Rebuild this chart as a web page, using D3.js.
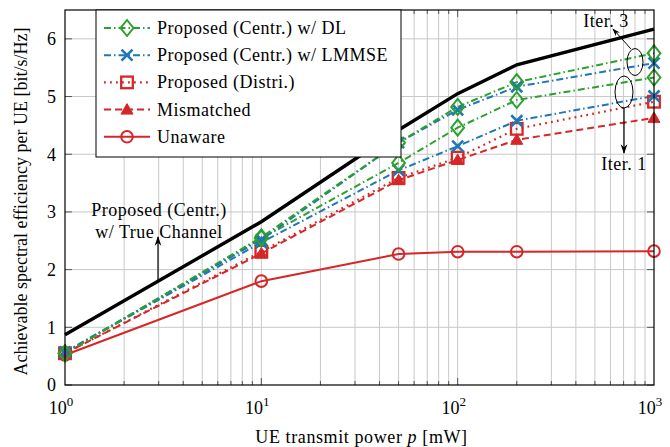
<!DOCTYPE html>
<html>
<head>
<meta charset="utf-8">
<script src="https://cdn.jsdelivr.net/npm/d3@7"></script>
<style>
  html, body { margin: 0; padding: 0; background: #fff; }
  svg { display: block; font-family: "Liberation Serif", "DejaVu Serif", serif; }
</style>
</head>
<body>
<svg id="chart" width="670" height="447"></svg>
<script>
// UE transmit power values (mW)
const powers = [1, 10, 50, 100, 200, 1000];

// Achievable spectral efficiency per UE (bit/s/Hz)
const trueChannel = [0.87, 2.83, 4.42, 5.05, 5.55, 6.17];
const dlIter3     = [0.55, 2.56, 4.20, 4.82, 5.25, 5.75];
const dlIter1     = [0.55, 2.54, 3.85, 4.46, 4.94, 5.33];
const lmmseIter3  = [0.57, 2.52, 4.20, 4.77, 5.17, 5.58];
const lmmseIter1  = [0.57, 2.47, 3.72, 4.14, 4.58, 5.01];
const distri      = [0.55, 2.31, 3.59, 3.94, 4.44, 4.91];
const mismatched  = [0.55, 2.28, 3.55, 3.90, 4.25, 4.63];
const unaware     = [0.52, 1.80, 2.27, 2.31, 2.31, 2.32];

const yTicks = [0, 1, 2, 3, 4, 5, 6];
const xTickExponents = [0, 1, 2, 3];

const legendLabels = [
  "Proposed (Centr.) w/ DL",
  "Proposed (Centr.) w/ LMMSE",
  "Proposed (Distri.)",
  "Mismatched",
  "Unaware"
];

const GREEN = "#2ca02c", BLUE = "#1f77b4", RED = "#d62728";

const styles = {
  dl:    { color: GREEN, dash: "7,3,1.5,3", marker: "diamond", width: 2 },
  lmmse: { color: BLUE,  dash: "7,3,1.5,3", marker: "cross",   width: 2 },
  distri:{ color: RED,   dash: "1.8,4.2",   marker: "square",  width: 2.2 },
  mism:  { color: RED,   dash: "7,4",       marker: "triangle",width: 2 },
  unaw:  { color: RED,   dash: null,        marker: "circle",  width: 2 },
  truec: { color: "#000", dash: null,       marker: null,      width: 3.4 }
};

const series = [
  { values: trueChannel, style: styles.truec },
  { values: unaware,     style: styles.unaw },
  { values: mismatched,  style: styles.mism },
  { values: distri,      style: styles.distri },
  { values: lmmseIter1,  style: styles.lmmse },
  { values: dlIter1,     style: styles.dl },
  { values: lmmseIter3,  style: styles.lmmse },
  { values: dlIter3,     style: styles.dl }
];

const FS = 18;          // main text size
const LS = "0.5px";     // letter spacing for annotation / legend text

const svg = d3.select("#chart");
const margin = { left: 65, right: 16, top: 10, bottom: 62 };
const W = 670, H = 447;
const pw = W - margin.left - margin.right;
const ph = H - margin.top - margin.bottom;

const x = d3.scaleLog().domain([1, 1000]).range([margin.left, margin.left + pw]);
const y = d3.scaleLinear().domain([0, 6.5]).range([margin.top + ph, margin.top]);

// grid
const gridG = svg.append("g");
const minorX = [];
for (let e = 0; e < 3; e++) for (let k = 2; k <= 9; k++) minorX.push(k * Math.pow(10, e));
gridG.selectAll(".gx").data(minorX.concat([10, 100])).enter().append("line")
  .attr("x1", d => x(d)).attr("x2", d => x(d))
  .attr("y1", margin.top).attr("y2", margin.top + ph)
  .attr("stroke", "#c8c8c8").attr("stroke-width", 1);
gridG.selectAll(".gy").data(yTicks.slice(1)).enter().append("line")
  .attr("x1", margin.left).attr("x2", margin.left + pw)
  .attr("y1", d => y(d)).attr("y2", d => y(d))
  .attr("stroke", "#c8c8c8").attr("stroke-width", 1);

// inward ticks
const tickG = svg.append("g").attr("stroke", "#555").attr("stroke-width", 1);
minorX.forEach(v => {
  tickG.append("line").attr("x1", x(v)).attr("x2", x(v)).attr("y1", margin.top + ph).attr("y2", margin.top + ph - 4);
  tickG.append("line").attr("x1", x(v)).attr("x2", x(v)).attr("y1", margin.top).attr("y2", margin.top + 4);
});
[10, 100].forEach(v => {
  tickG.append("line").attr("x1", x(v)).attr("x2", x(v)).attr("y1", margin.top + ph).attr("y2", margin.top + ph - 7);
  tickG.append("line").attr("x1", x(v)).attr("x2", x(v)).attr("y1", margin.top).attr("y2", margin.top + 7);
});
yTicks.forEach(v => {
  tickG.append("line").attr("x1", margin.left).attr("x2", margin.left + 7).attr("y1", y(v)).attr("y2", y(v));
  tickG.append("line").attr("x1", margin.left + pw).attr("x2", margin.left + pw - 7).attr("y1", y(v)).attr("y2", y(v));
});

// series lines and markers
const line = d3.line().x((d, i) => x(powers[i])).y(d => y(d));
const plotG = svg.append("g");

function drawMarker(g, type, cx, cy, color) {
  if (type === "diamond") {
    const s = 8;
    g.append("path").attr("d", `M${cx},${cy - s}L${cx + s * 0.8},${cy}L${cx},${cy + s}L${cx - s * 0.8},${cy}Z`)
      .attr("fill", "none").attr("stroke", color).attr("stroke-width", 2);
  } else if (type === "cross") {
    const s = 5.5;
    g.append("path").attr("d", `M${cx - s},${cy - s}L${cx + s},${cy + s}M${cx - s},${cy + s}L${cx + s},${cy - s}`)
      .attr("stroke", color).attr("stroke-width", 2.6);
  } else if (type === "square") {
    const s = 5.8;
    g.append("rect").attr("x", cx - s).attr("y", cy - s).attr("width", 2 * s).attr("height", 2 * s)
      .attr("fill", "none").attr("stroke", color).attr("stroke-width", 2.3);
  } else if (type === "triangle") {
    const s = 6;
    g.append("path").attr("d", `M${cx},${cy - s}L${cx + s},${cy + s * 0.75}L${cx - s},${cy + s * 0.75}Z`)
      .attr("fill", color).attr("stroke", color).attr("stroke-width", 1);
  } else if (type === "circle") {
    g.append("circle").attr("cx", cx).attr("cy", cy).attr("r", 5.8)
      .attr("fill", "none").attr("stroke", color).attr("stroke-width", 2);
  }
}

series.forEach(s => {
  plotG.append("path").datum(s.values).attr("d", line)
    .attr("fill", "none").attr("stroke", s.style.color)
    .attr("stroke-width", s.style.width)
    .attr("stroke-dasharray", s.style.dash);
});
series.forEach(s => {
  if (!s.style.marker) return;
  s.values.forEach((v, i) => drawMarker(plotG, s.style.marker, x(powers[i]), y(v), s.style.color));
});

// frame
svg.append("rect").attr("x", margin.left).attr("y", margin.top).attr("width", pw).attr("height", ph)
  .attr("fill", "none").attr("stroke", "#000").attr("stroke-width", 1.2);

// y tick labels
svg.selectAll(".ytl").data(yTicks).enter().append("text")
  .attr("x", margin.left - 9).attr("y", d => y(d)).attr("dy", "0.35em")
  .attr("text-anchor", "end").attr("font-size", FS).text(d => d);

// x tick labels (powers of ten)
xTickExponents.forEach(e => {
  const t = svg.append("text").attr("x", x(Math.pow(10, e)) - 4).attr("y", margin.top + ph + 29)
    .attr("text-anchor", "middle").attr("font-size", FS);
  t.append("tspan").text("10");
  t.append("tspan").attr("dy", -8).attr("font-size", 13).text(e);
});

// axis titles
const xt = svg.append("text").attr("x", margin.left + pw / 2 + 2).attr("y", H - 4)
  .attr("text-anchor", "middle").attr("font-size", FS).attr("letter-spacing", "0.6px");
xt.append("tspan").text("UE transmit power ");
xt.append("tspan").attr("font-style", "italic").text("p");
xt.append("tspan").text(" [mW]");

svg.append("text").attr("transform", `translate(27,${margin.top + ph / 2 + 4}) rotate(-90)`)
  .attr("text-anchor", "middle").attr("font-size", FS)
  .text("Achievable spectral efficiency per UE [bit/s/Hz]");

// annotations
const annG = svg.append("g");
svg.append("defs").append("marker").attr("id", "arrow").attr("viewBox", "0 0 10 10")
  .attr("refX", 9).attr("refY", 5).attr("markerWidth", 8).attr("markerHeight", 8)
  .attr("orient", "auto-start-reverse")
  .append("path").attr("d", "M0,1.5L10,5L0,8.5L3,5Z").attr("fill", "#000");

// true-channel label and arrow
const tcX = 158;
annG.append("line").attr("x1", tcX).attr("y1", 281).attr("x2", tcX).attr("y2", 237)
  .attr("stroke", "#000").attr("stroke-width", 1.2).attr("marker-end", "url(#arrow)");
annG.append("text").attr("x", 159).attr("y", 216).attr("text-anchor", "middle").attr("font-size", FS)
  .attr("letter-spacing", LS).text("Proposed (Centr.)");
annG.append("text").attr("x", 159).attr("y", 238).attr("text-anchor", "middle").attr("font-size", FS)
  .attr("letter-spacing", LS).text("w/ True Channel");

// iteration ellipses
annG.append("ellipse").attr("cx", 635).attr("cy", 62).attr("rx", 8).attr("ry", 13.5)
  .attr("fill", "none").attr("stroke", "#000").attr("stroke-width", 1);
annG.append("ellipse").attr("cx", 624).attr("cy", 92).attr("rx", 9).attr("ry", 16)
  .attr("fill", "none").attr("stroke", "#000").attr("stroke-width", 1);
annG.append("line").attr("x1", 631).attr("y1", 49).attr("x2", 613).attr("y2", 29)
  .attr("stroke", "#000").attr("stroke-width", 1).attr("marker-end", "url(#arrow)");
annG.append("line").attr("x1", 624).attr("y1", 108).attr("x2", 624).attr("y2", 153)
  .attr("stroke", "#000").attr("stroke-width", 1.2).attr("marker-end", "url(#arrow)");
annG.append("text").attr("x", 606).attr("y", 27).attr("text-anchor", "middle").attr("font-size", FS)
  .attr("letter-spacing", LS).text("Iter. 3");
annG.append("text").attr("x", 624).attr("y", 170).attr("text-anchor", "middle").attr("font-size", FS)
  .attr("letter-spacing", LS).text("Iter. 1");

// legend
const legStyles = [styles.dl, styles.lmmse, styles.distri, styles.mism, styles.unaw];
const lg = svg.append("g");
lg.append("rect").attr("x", 96).attr("y", 10).attr("width", 305).attr("height", 147)
  .attr("fill", "#fff").attr("stroke", "#000").attr("stroke-width", 1);
legendLabels.forEach((lab, i) => {
  const cy = 28 + i * 27.2, st = legStyles[i];
  lg.append("line").attr("x1", 104).attr("x2", 150).attr("y1", cy).attr("y2", cy)
    .attr("stroke", st.color).attr("stroke-width", st.width).attr("stroke-dasharray", st.dash);
  drawMarker(lg, st.marker, 127, cy, st.color);
  lg.append("text").attr("x", 157).attr("y", cy).attr("dy", "0.33em").attr("font-size", FS)
    .attr("letter-spacing", LS).text(lab);
});
</script>
</body>
</html>
